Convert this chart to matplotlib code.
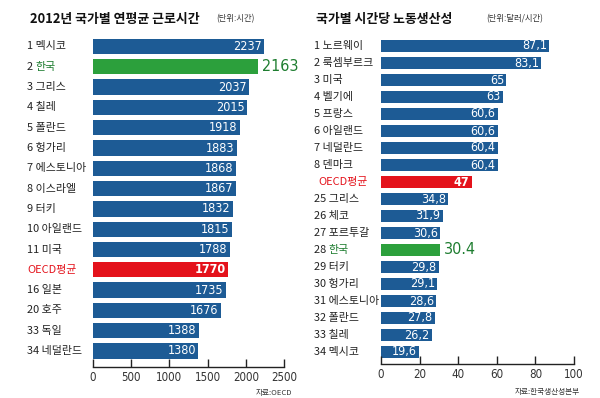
import matplotlib
matplotlib.use("Agg")
import matplotlib.pyplot as plt
from matplotlib.transforms import blended_transform_factory

plt.rcParams['font.family'] = ['Noto Sans CJK KR', 'DejaVu Sans']

# left chart: annual working hours 2012
hours_labels = ["1 멕시코", "2 한국", "3 그리스", "4 칠레", "5 폴란드", "6 헝가리",
                "7 에스토니아", "8 이스라엘", "9 터키", "10 아일랜드", "11 미국",
                "OECD평균", "16 일본", "20 호주", "33 독일", "34 네덜란드"]
hours = [2237, 2163, 2037, 2015, 1918, 1883, 1868, 1867, 1832, 1815, 1788,
         1770, 1735, 1676, 1388, 1380]
hours_ticks = [0, 500, 1000, 1500, 2000, 2500]

# right chart: labour productivity per hour
prod_labels = ["1 노르웨이", "2 룩셈부르크", "3 미국", "4 벨기에", "5 프랑스",
               "6 아일랜드", "7 네덜란드", "8 덴마크", "OECD평균", "25 그리스",
               "26 체코", "27 포르투갈", "28 한국", "29 터키", "30 헝가리",
               "31 에스토니아", "32 폴란드", "33 칠레", "34 멕시코"]
prod = [87.1, 83.1, 65, 63, 60.6, 60.6, 60.4, 60.4, 47, 34.8, 31.9, 30.6,
        30.4, 29.8, 29.1, 28.6, 27.8, 26.2, 19.6]
prod_ticks = [0, 20, 40, 60, 80, 100]

BLUE = '#1d5b95'
GREEN = '#2ca03c'
GREEN_TXT = '#1e7d30'
RED = '#e4121b'
NARROW = ['Liberation Sans Narrow', 'DejaVu Sans']
LABEL_FS = 7.9

W, H = 600, 398
fig = plt.figure(figsize=(6, 3.98), dpi=100)


def px_axes(x0, x1, ytop, ybot):
    return fig.add_axes([x0 / W, (H - ybot) / H, (x1 - x0) / W, (ybot - ytop) / H])


def draw_chart(ax, labels, values, ticks, xmax, c0, step, ybot, label_x, oecd_x, fmt):
    n = len(values)
    ypos = list(range(n))
    colors = []
    for lab in labels:
        if lab.startswith('OECD'):
            colors.append(RED)
        elif '한국' in lab:
            colors.append(GREEN)
        else:
            colors.append(BLUE)
    ax.barh(ypos, values, height=0.75, color=colors)
    ax.set_xlim(0, xmax)
    ax.set_ylim((ybot - c0) / step, (30 - c0) / step)
    for s in ['top', 'right', 'left']:
        ax.spines[s].set_visible(False)
    ax.spines['bottom'].set_color('#222222')
    ax.spines['bottom'].set_linewidth(1.0)
    ax.set_yticks([])
    ax.set_xticks(ticks)
    ax.set_xticklabels([str(t) for t in ticks], family=NARROW, stretch='condensed')
    ax.tick_params(axis='x', direction='in', length=6, width=1.0, color='#222222',
                   labelsize=8.3, labelcolor='#333333', pad=3)
    ax.patch.set_alpha(0)

    tr = blended_transform_factory(fig.transFigure, ax.transData)
    for i, (lab, v) in enumerate(zip(labels, values)):
        if lab.startswith('OECD'):
            ax.text(oecd_x / W, i, lab, transform=tr, color=RED, fontsize=LABEL_FS,
                    va='center', ha='left')
            ax.text(v - xmax * 0.012, i, fmt(v), color='white', fontsize=9,
                    fontweight='bold', va='center', ha='right', family=NARROW,
                    stretch='condensed')
        elif '한국' in lab:
            num, name = lab.split(' ')
            t = ax.text(label_x / W, i, num + ' ', transform=tr, color='#222222',
                        fontsize=LABEL_FS, va='center', ha='left')
            fig.canvas.draw()
            bb = t.get_window_extent()
            ax.text(bb.x1 / fig.bbox.width, i, name, transform=tr, color=GREEN_TXT,
                    fontsize=LABEL_FS, va='center', ha='left')
            ax.text(v + xmax * 0.02, i, fmt(v, True), color=GREEN_TXT, fontsize=11.5,
                    va='center', ha='left', family=NARROW, stretch='condensed')
        else:
            ax.text(label_x / W, i, lab, transform=tr, color='#222222', fontsize=LABEL_FS,
                    va='center', ha='left')
            ax.text(v - xmax * 0.012, i, fmt(v), color='white', fontsize=9,
                    va='center', ha='right', family=NARROW, stretch='condensed')


def fmt_hours(v, korea=False):
    return str(v)


def fmt_prod(v, korea=False):
    if v == int(v):
        return str(int(v))
    s = '%.1f' % v
    return s if korea else s.replace('.', ',')


ax1 = px_axes(93, 284, 30, 367)
draw_chart(ax1, hours_labels, hours, hours_ticks, 2500, 46.5, 20.3, 367, 27, 27, fmt_hours)

ax2 = px_axes(381, 574, 30, 364)
draw_chart(ax2, prod_labels, prod, prod_ticks, 100, 46, 17.0, 364, 314, 318, fmt_prod)

fig.text(30 / W, 1 - 19 / H, "2012년 국가별 연평균 근로시간", fontsize=9.3,
         fontweight='bold', va='center', ha='left', color='#111111')
fig.text(216 / W, 1 - 19 / H, "(단위:시간)", fontsize=6, va='center', ha='left',
         color='#333333')
fig.text(316 / W, 1 - 19 / H, "국가별 시간당 노동생산성", fontsize=9.3,
         fontweight='bold', va='center', ha='left', color='#111111')
fig.text(486 / W, 1 - 19 / H, "(단위:달러/시간)", fontsize=6, va='center', ha='left',
         color='#333333')
fig.text(292 / W, 1 - 393 / H, "자료:OECD", fontsize=5.5, va='center', ha='right',
         color='#333333')
fig.text(580 / W, 1 - 392 / H, "자료:한국생산성본부", fontsize=5.5, va='center', ha='right',
         color='#333333')

fig.savefig("out.png", dpi=100)
